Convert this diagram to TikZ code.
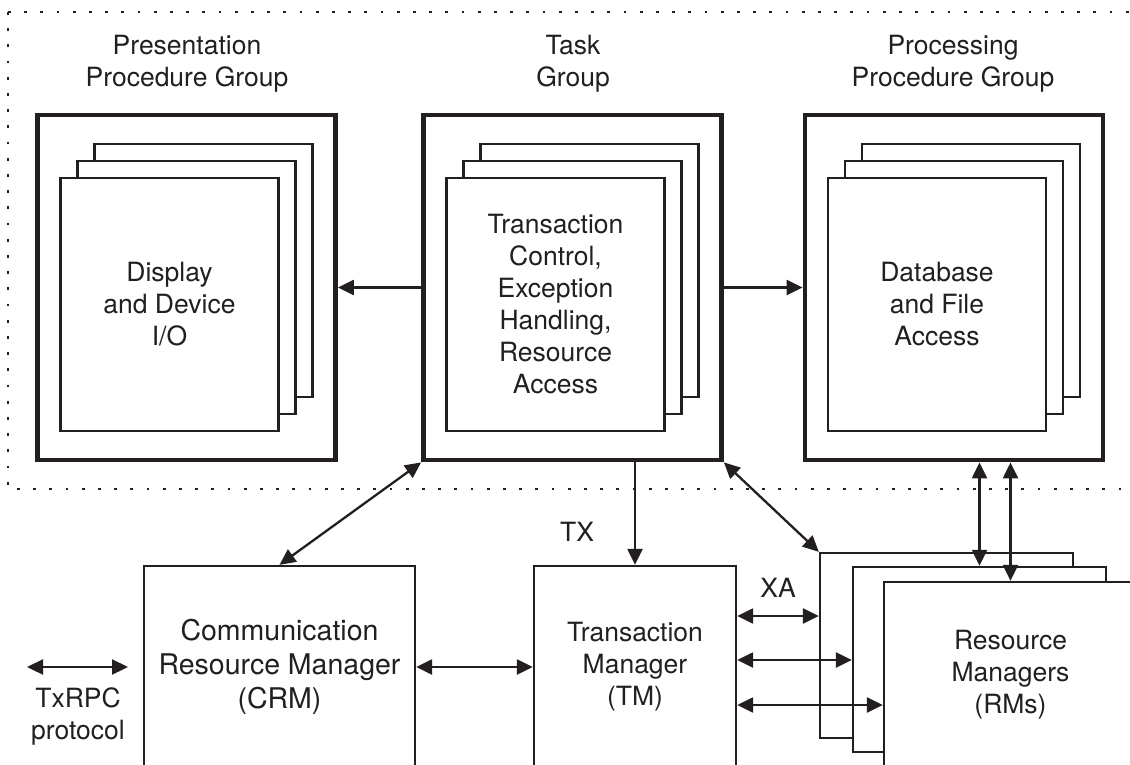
\documentclass[tikz,border=0pt]{standalone}
\usepackage{fontspec}
\setmainfont{TeX Gyre Heros}
\usetikzlibrary{arrows.meta}
\definecolor{ink}{HTML}{231F20}
\begin{document}
\begin{tikzpicture}[x=1pt,y=-1pt,
  outerbox/.style={draw=ink, line width=4.8pt, minimum width=298pt, minimum height=345pt, inner sep=0pt},
  pagebox/.style={draw=ink, fill=white, line width=2.3pt, minimum width=218pt, minimum height=253pt, inner sep=0pt, align=center, font=\fontsize{26.5}{32}\selectfont, text=ink},
  plainbox/.style={draw=ink, fill=white, line width=2.3pt, inner sep=0pt, align=center, text=ink, font=\fontsize{26.5}{32}\selectfont},
  rmbox/.style={plainbox, minimum width=253pt, minimum height=185pt},
  lbl/.style={align=center, text=ink, font=\fontsize{26.5}{32}\selectfont, inner sep=0pt},
  conn/.style={draw=ink, line width=2.3pt},
  arr/.style={conn, -{Triangle[length=16pt,width=15pt]}},
  darr/.style={conn, {Triangle[length=16pt,width=15pt]}-{Triangle[length=16pt,width=15pt]}},
  frame/.style={draw=ink, line width=2.8pt, dash pattern=on 2.8pt off 13.4pt}
]
\clip (0,0) rectangle (1130,765);
\fill[white] (0,0) rectangle (1130,765);

% dotted boundary
\draw[frame] (8,12) -- (1130,12);
\draw[frame] (8,12) -- (8,489) -- (1130,489);

% group labels
\node[lbl] (presL) at (187,64) {Presentation\\Procedure Group};
\node[lbl] (taskL) at (573,64) {Task\\Group};
\node[lbl] (procL) at (953,64) {Processing\\Procedure Group};

% presentation procedure group
\node[outerbox] (pres) at (186.5,287.5) {};
\node[pagebox] (presB) at ([shift={(17,-17)}]pres.center) {};
\node[pagebox] (presM) at (pres.center) {};
\node[pagebox] (presF) at ([shift={(-17,17)}]pres.center) {Display\\and Device\\I/O};

% task group
\node[outerbox] (task) at (572.5,287.5) {};
\node[pagebox] (taskB) at ([shift={(17,-17)}]task.center) {};
\node[pagebox] (taskM) at (task.center) {};
\node[pagebox] (taskF) at ([shift={(-17,17)}]task.center) {Transaction\\Control,\\Exception\\Handling,\\Resource\\Access};

% processing procedure group
\node[outerbox] (proc) at (954,287.5) {};
\node[pagebox] (procB) at ([shift={(17,-17)}]proc.center) {};
\node[pagebox] (procM) at (proc.center) {};
\node[pagebox] (procF) at ([shift={(-17,17)}]proc.center) {Database\\and File\\Access};

% lower managers
\node[plainbox, minimum width=271pt, minimum height=202pt, font=\fontsize{28.5}{34}\selectfont] (crm) at (279.5,667) {Communication\\Resource Manager\\(CRM)};
\node[plainbox, minimum width=202pt, minimum height=202pt] (tm) at (635,667) {Transaction\\Manager\\(TM)};
\node[rmbox] (rmB) at (946.5,645.5) {};
\node[rmbox] (rmM) at (979.5,659.5) {};
\node[rmbox] (rmF) at (1010.5,674.5) {Resource\\Managers\\(RMs)};

% labels
\node[lbl] (rpc) at (78,716) {TxRPC\\protocol};
\node[lbl] (tx) at (577,532) {TX};
\node[lbl] (xa) at (778,588) {XA};

% connectors
\draw[arr] (task.west) -- (pres.east);
\draw[arr] (task.east) -- (proc.west);
\draw[darr] (crm.north) -- (task.south west);
\draw[arr] (tm.north |- task.south) -- (tm.north);
\draw[darr] (task.south east) -- (rmB.north west);
\draw[darr] (crm.east) -- (tm.west);
\coordinate (rpcL) at (27,667);
\coordinate (rpcR) at (128,667);
\draw[darr] (rpcL) -- (rpcR);
\coordinate (xa1) at ([yshift=51pt]tm.east);
\coordinate (xa2) at ([yshift=7pt]tm.east);
\coordinate (xa3) at ([yshift=-38pt]tm.east);
\draw[darr] (xa1) -- (xa1 -| rmB.west);
\draw[darr] (xa2) -- (xa2 -| rmM.west);
\draw[darr] (xa3) -- (xa3 -| rmF.west);
\draw[darr] (rmM.north |- proc.south) -- (rmM.north);
\draw[darr] (rmF.north |- proc.south) -- (rmF.north);
\end{tikzpicture}
\end{document}
